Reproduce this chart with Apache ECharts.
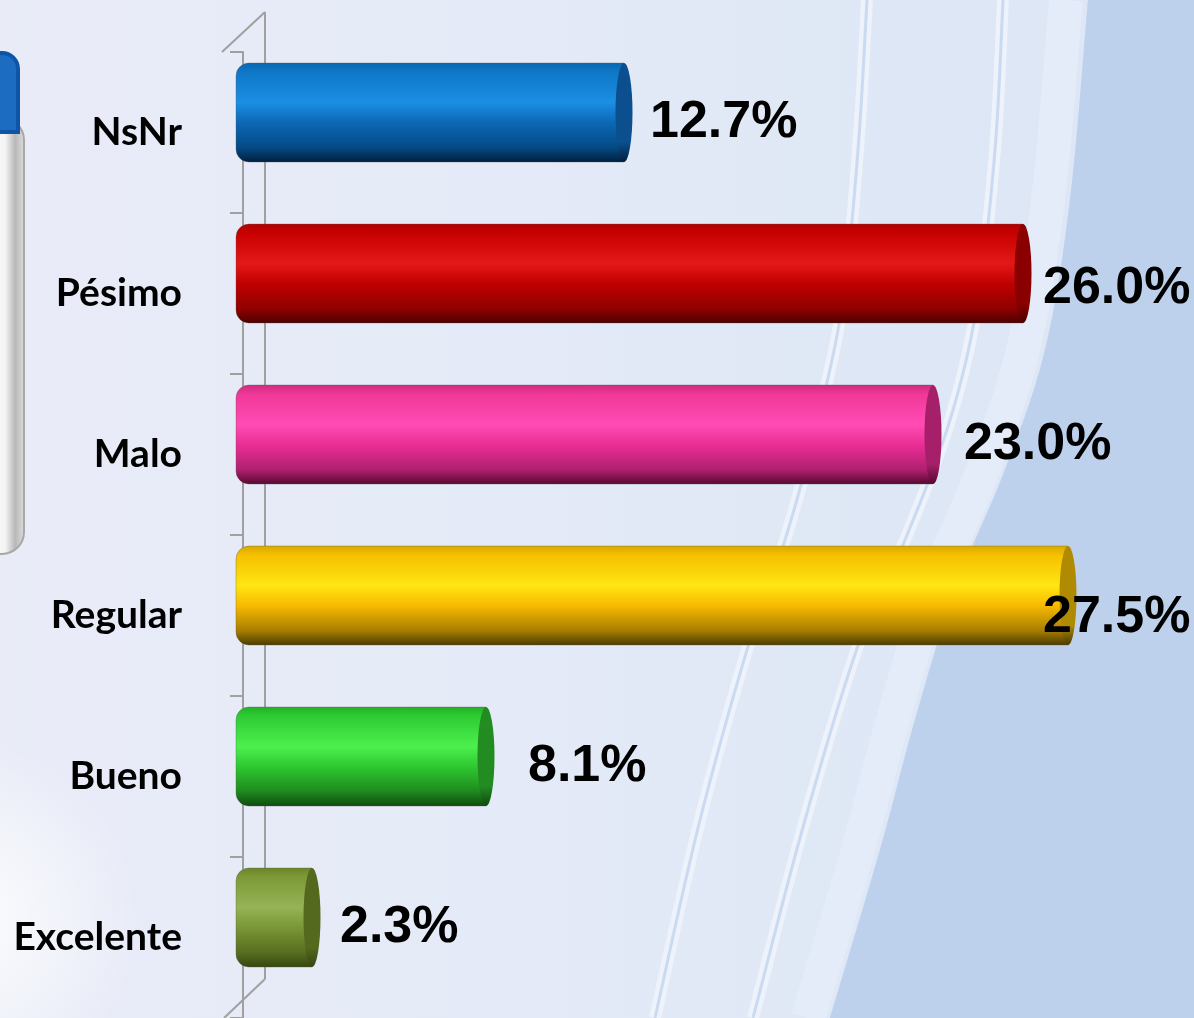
<!DOCTYPE html>
<html><head><meta charset="utf-8">
<script src="https://cdn.jsdelivr.net/npm/echarts@6/dist/echarts.min.js"></script>
<style>html,body{margin:0;padding:0;width:1194px;height:1018px;overflow:hidden;background:#E8ECF7}#c{width:1194px;height:1018px}</style>
</head><body><div id="c"></div>
<script>
// ---- data ----
const categories = ['NsNr', 'Pésimo', 'Malo', 'Regular', 'Bueno', 'Excelente'];
const values = [12.7, 26.0, 23.0, 27.5, 8.1, 2.3];

// ---- styles (kept apart from data) ----
const palettes = [
  ['#0A66B0', '#0F78C8', '#1A8FE3', '#0C68B5', '#044A85', '#001E3C', '#0B4F8E'],
  ['#B30000', '#C80000', '#E41818', '#C00000', '#900000', '#4A0000', '#8A0000'],
  ['#D02A80', '#F03898', '#FF4CB5', '#EA2E95', '#B02070', '#55082F', '#A52068'],
  ['#D8A800', '#F5C000', '#FFE612', '#F8BA00', '#A87E00', '#4A3A00', '#B08A00'],
  ['#22B025', '#2ECC33', '#4CF04E', '#2EC830', '#1E8A1E', '#0E4A0E', '#228B22'],
  ['#6A8428', '#7E9A38', '#95B455', '#7A9636', '#566E20', '#35450F', '#55691E']
];
const labelNudgeX = [26, 20, 31, -25, 42, 28];
const labelNudgeY = [-10, -5, -10, 2, -10, -10];

// decorative background curves (slide artwork, not data)
function spline(pts, n) {
  const out = [];
  for (let i = 0; i < pts.length - 1; i++) {
    const p0 = pts[Math.max(i - 1, 0)], p1 = pts[i], p2 = pts[i + 1], p3 = pts[Math.min(i + 2, pts.length - 1)];
    for (let k = 0; k < n; k++) {
      const t = k / n, t2 = t * t, t3 = t2 * t;
      const f = (a, b, c, d) => 0.5 * (2 * b + (-a + c) * t + (2 * a - 5 * b + 4 * c - d) * t2 + (-a + 3 * b - 3 * c + d) * t3);
      out.push([f(p0[0], p1[0], p2[0], p3[0]), f(p0[1], p1[1], p2[1], p3[1])]);
    }
  }
  out.push(pts[pts.length - 1]);
  return out;
}
const edgeCurve = spline([[1088,0],[1070,200],[1045,350],[1005,470],[955,590],[915,720],[880,850],[830,1018]], 12);
const shift = (pts, dx) => pts.map(p => [p[0] + dx, p[1]]);
const lineA = spline([[867,0],[858,150],[843,300],[818,420],[785,540],[750,640],[700,820],[655,1018]], 12);
const lineB = spline([[1003,0],[995,150],[978,300],[950,420],[905,540],[860,640],[805,820],[753,1018]], 12);

const chart = echarts.init(document.getElementById('c'), null, {renderer: 'canvas'});

function renderItem(params, api) {
  const idx = params.dataIndex;
  const v = api.value(0);
  const cat = api.value(1);
  const base = api.coord([0, cat]);
  const end = api.coord([v, cat]);
  const band = api.size([0, 1])[1];
  const h = band * 0.615;
  const cy = base[1] - band * 0.124;
  const p = palettes[idx];
  const grad = new echarts.graphic.LinearGradient(0, 0, 0, 1, [
    {offset: 0, color: p[0]}, {offset: 0.1, color: p[1]}, {offset: 0.4, color: p[2]},
    {offset: 0.6, color: p[3]}, {offset: 0.85, color: p[4]}, {offset: 1, color: p[5]}
  ]);
  const capGrad = new echarts.graphic.LinearGradient(0, 0, 0, 1, [
    {offset: 0, color: p[6]}, {offset: 0.8, color: p[6]}, {offset: 1, color: p[5]}
  ]);
  const x0 = base[0] - 7;
  const ry = h / 2;
  return {
    type: 'group',
    children: [
      {type: 'rect', shape: {x: x0, y: cy - ry, width: end[0] - x0, height: h, r: [13, 0, 0, 13]},
       style: {fill: grad, stroke: 'rgba(90,90,90,0.35)', lineWidth: 1}},
      {type: 'circle', x: end[0], y: cy, scaleX: 8.5 / ry, scaleY: 1,
       shape: {cx: 0, cy: 0, r: ry},
       style: {fill: capGrad}},
      {type: 'text', x: end[0] + labelNudgeX[idx], y: base[1] + labelNudgeY[idx], z2: 100,
       style: {text: v.toFixed(1) + '%', font: 'bold 52px "Liberation Sans", Arial, sans-serif',
               fill: '#000', align: 'left', verticalAlign: 'middle'}}
    ]
  };
}

const option = {
  backgroundColor: '#E8ECF7',
  animation: false,
  graphic: [
    {type: 'rect', z: -20, silent: true, shape: {x: 0, y: 0, width: 1194, height: 1018},
     style: {fill: new echarts.graphic.LinearGradient(0, 0, 1, 0, [
       {offset: 0, color: '#E9ECF7'}, {offset: 0.45, color: '#E4EAF7'}, {offset: 0.8, color: '#DDE7F5'}, {offset: 1, color: '#DCE6F5'}])}},
    {type: 'circle', z: -19, silent: true, shape: {cx: -40, cy: 920, r: 180},
     style: {fill: new echarts.graphic.RadialGradient(0.5, 0.5, 0.5, [
       {offset: 0, color: 'rgba(255,255,255,0.9)'}, {offset: 1, color: 'rgba(255,255,255,0)'}])}},
    {type: 'polyline', z: -18, silent: true, shape: {points: shift(edgeCurve, -22)},
     style: {stroke: 'rgba(228,236,249,0.9)', lineWidth: 34}},
    {type: 'polygon', z: -17, silent: true,
     shape: {points: edgeCurve.concat([[1194,1018],[1194,0]])},
     style: {fill: '#BED1EC'}},
    {type: 'polyline', z: -16, silent: true, shape: {points: shift(edgeCurve, 6)},
     style: {stroke: 'rgba(190,209,236,0.6)', lineWidth: 12}},
    {type: 'polyline', z: -16, silent: true, shape: {points: lineA},
     style: {stroke: 'rgba(238,243,252,0.9)', lineWidth: 12}},
    {type: 'polyline', z: -15, silent: true, shape: {points: lineA},
     style: {stroke: '#CADAF0', lineWidth: 3}},
    {type: 'polyline', z: -16, silent: true, shape: {points: lineB},
     style: {stroke: 'rgba(238,243,252,0.9)', lineWidth: 12}},
    {type: 'polyline', z: -15, silent: true, shape: {points: lineB},
     style: {stroke: '#CADAF0', lineWidth: 3}},
    // left decorative panel
    {type: 'rect', z: -10, silent: true, shape: {x: -40, y: 118, width: 64, height: 436, r: 22},
     style: {fill: new echarts.graphic.LinearGradient(0, 0, 1, 0, [
       {offset: 0, color: '#FFFFFF'}, {offset: 0.7, color: '#F4F4F4'}, {offset: 0.85, color: '#B8B8B8'}, {offset: 1, color: '#E0E0E0'}]),
       stroke: '#A8A8A8', lineWidth: 2}},
    {type: 'rect', z: -9, silent: true, shape: {x: -40, y: 53, width: 58, height: 79, r: [0, 16, 0, 0]},
     style: {fill: '#1C6CC2', stroke: '#0E55A5', lineWidth: 4}},
    // 3D axis wall lines
    {type: 'line', z: 1, silent: true, shape: {x1: 265, y1: 12, x2: 265, y2: 979}, style: {stroke: '#A0A0A0', lineWidth: 2}},
    {type: 'line', z: 1, silent: true, shape: {x1: 222, y1: 52, x2: 265, y2: 12}, style: {stroke: '#A0A0A0', lineWidth: 2}},
    {type: 'line', z: 1, silent: true, shape: {x1: 265, y1: 979, x2: 224, y2: 1018}, style: {stroke: '#A0A0A0', lineWidth: 2}}
  ],
  grid: {left: 243, top: 52, width: 900, height: 967, containLabel: false},
  xAxis: {type: 'value', min: 0, max: 30, show: false},
  yAxis: {
    type: 'category', data: categories, inverse: true, offset: 21,
    axisLine: {show: true, lineStyle: {color: '#A0A0A0', width: 2}},
    axisTick: {show: true, length: 13, lineStyle: {color: '#A0A0A0', width: 2}},
    axisLabel: {margin: 40, fontFamily: 'Lato', fontWeight: 'bold', fontSize: 39, color: '#000'},
    splitLine: {show: false}
  },
  series: [{
    type: 'custom',
    renderItem: renderItem,
    encode: {x: 0, y: 1},
    clip: false,
    data: values.map((v, i) => [v, i])
  }]
};
chart.setOption(option);
</script>
</body></html>
